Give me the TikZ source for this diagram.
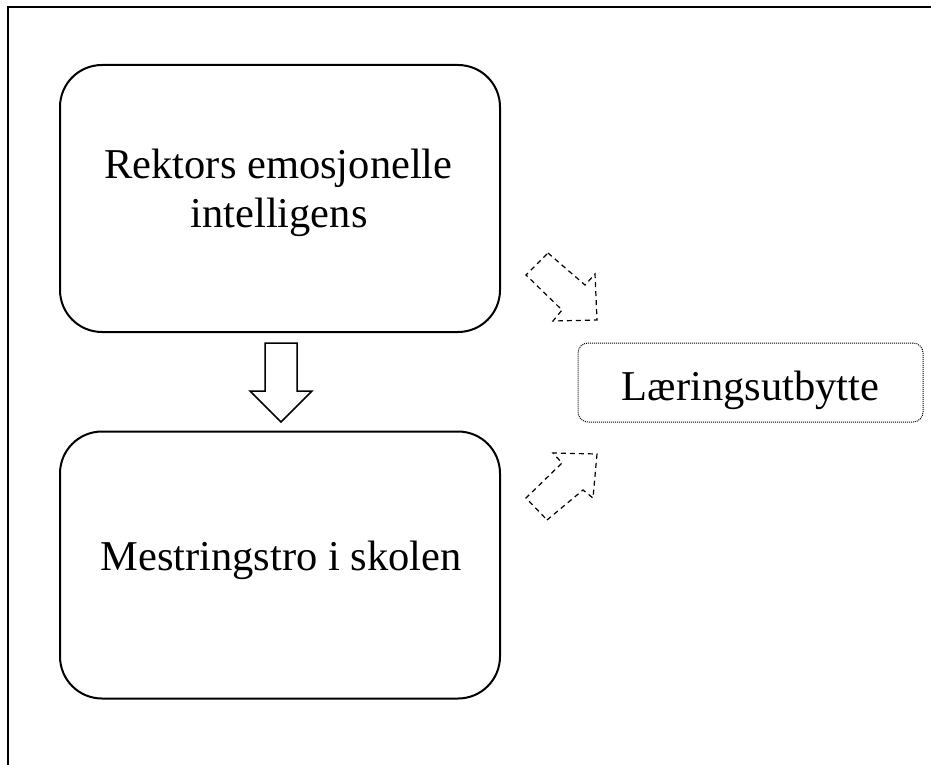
\documentclass[tikz,border=0pt]{standalone}
\usepackage{fontspec}
\setmainfont{Liberation Serif}
\begin{document}
\begin{tikzpicture}[x=1pt,y=-1pt,
  bigbox/.style={draw,line width=2pt,rounded corners=42pt,minimum width=440pt,minimum height=267pt,inner sep=0pt},
  smallbox/.style={draw,densely dotted,line width=1pt,rounded corners=10pt,minimum width=345pt,minimum height=79pt,inner sep=0pt},
  boxtext/.style={anchor=base,inner sep=0pt,font=\fontsize{42.5}{49}\selectfont},
  blockarrow/.style={draw,line width=1.5pt,fill=white,line join=miter},
  dasharrow/.style={draw,line width=1.2pt,dash pattern=on 5pt off 4pt}]
\useasboundingbox (0,0) rectangle (931,765);
\draw[line width=2pt] (8,7) rectangle (945,780);
\node[bigbox] (rek) at (280,198.5) {};
\node[bigbox] (mes) at (280,565) {};
\node[smallbox] (lar) at (750.5,382.5) {};
\node[boxtext] (rek1) at (278.5,178) {Rektors emosjonelle};
\node[boxtext] (rek2) at (279,227) {intelligens};
\node[boxtext] (mest) at (281,570) {Mestringstro i skolen};
\node[boxtext] (lart) at (750.5,400) {Læringsutbytte};
\draw[blockarrow] (265,343) -- (297,343) -- (297,391) -- (312,391) -- (281,422) -- (250,391) -- (265,391) -- cycle;
\draw[dasharrow] (548,253) -- (585,285) -- (595,274) -- (597,320) -- (553,321) -- (562,310) -- (526,275) -- cycle;
\draw[dasharrow] (547,520) -- (583,490) -- (593,498) -- (597,454) -- (553,453) -- (562,463) -- (526,498) -- cycle;
\end{tikzpicture}
\end{document}
